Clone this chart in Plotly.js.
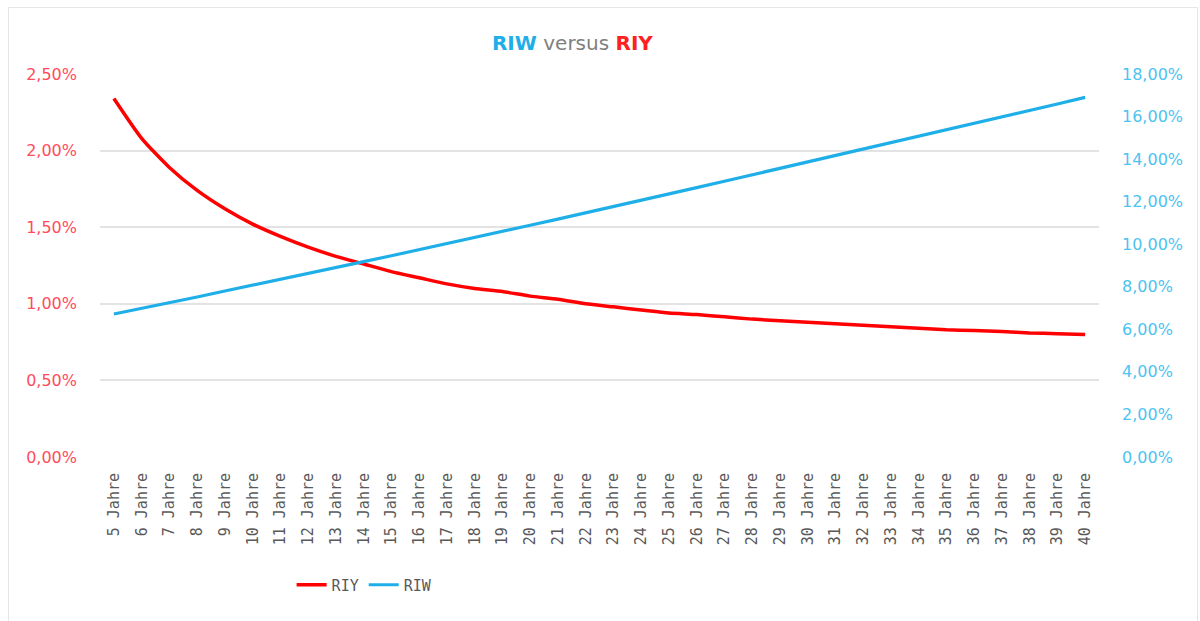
<!DOCTYPE html>
<html>
<head>
<meta charset="utf-8">
<script src="https://cdn.plot.ly/plotly-3.0.1.min.js"></script>
<style>
  html, body { margin: 0; padding: 0; background: #fff; }
  #wrap { position: relative; width: 1200px; height: 621px; }
  #chart { width: 1200px; height: 621px; }
  #frame { position: absolute; left: 8px; top: 7px; width: 1190px; height: 620px; border: 1px solid #e6e6e6; pointer-events: none; box-sizing: border-box; }
</style>
</head>
<body>
<div id="wrap">
  <div id="chart"></div>
  <div id="frame"></div>
</div>
<script>
const categories = ["5 Jahre","6 Jahre","7 Jahre","8 Jahre","9 Jahre","10 Jahre","11 Jahre","12 Jahre","13 Jahre","14 Jahre","15 Jahre","16 Jahre","17 Jahre","18 Jahre","19 Jahre","20 Jahre","21 Jahre","22 Jahre","23 Jahre","24 Jahre","25 Jahre","26 Jahre","27 Jahre","28 Jahre","29 Jahre","30 Jahre","31 Jahre","32 Jahre","33 Jahre","34 Jahre","35 Jahre","36 Jahre","37 Jahre","38 Jahre","39 Jahre","40 Jahre"];
const riy = [2.34,2.08,1.89,1.74,1.62,1.52,1.44,1.37,1.31,1.26,1.21,1.17,1.13,1.10,1.08,1.05,1.03,1.00,0.98,0.96,0.94,0.93,0.915,0.90,0.89,0.88,0.87,0.86,0.85,0.84,0.83,0.825,0.82,0.81,0.805,0.80];
const riw = [6.72,6.98,7.25,7.52,7.80,8.07,8.34,8.62,8.90,9.18,9.46,9.74,10.02,10.31,10.60,10.89,11.18,11.47,11.77,12.06,12.36,12.66,12.96,13.26,13.56,13.87,14.17,14.47,14.77,15.07,15.37,15.67,15.98,16.28,16.59,16.90];
const leftTicks = [0,0.5,1,1.5,2,2.5];
const leftTickText = ["0,00%","0,50%","1,00%","1,50%","2,00%","2,50%"];
const rightTicks = [0,2,4,6,8,10,12,14,16,18];
const rightTickText = ["0,00%","2,00%","4,00%","6,00%","8,00%","10,00%","12,00%","14,00%","16,00%","18,00%"];

const red = "#ff0000";
const blue = "#1eaee8";

const traces = [
  {x: categories, y: riy, name: "RIY", type: "scatter", mode: "lines",
   line: {color: red, width: 3.5, shape: "spline", smoothing: 0.6}, yaxis: "y"},
  {x: categories, y: riw, name: "RIW", type: "scatter", mode: "lines",
   line: {color: blue, width: 3.2}, yaxis: "y2"}
];

const layout = {
  width: 1200, height: 621,
  margin: {l: 100, r: 101, t: 74, b: 164},
  paper_bgcolor: "#ffffff", plot_bgcolor: "#ffffff",
  font: {family: "DejaVu Sans, Verdana, sans-serif", color: "#595959"},
  title: {
    text: '<b><span style="color:#1eaee8">RIW</span></b> <span style="color:#7f7f7f">versus</span> <b><span style="color:#ff2020">RIY</span></b>',
    x: 0.477, xanchor: "center", xref: "container", y: 0.931, yref: "container", yanchor: "middle",
    font: {size: 20, family: "DejaVu Sans, Verdana, sans-serif"}
  },
  xaxis: {
    type: "category", range: [-0.5, 35.5], automargin: false,
    tickangle: -90, tickfont: {size: 15, color: "#595959", family: "DejaVu Sans Mono, monospace"},
    showgrid: false, zeroline: false, showline: false, ticks: "",
    ticklabelstandoff: 12
  },
  yaxis: {
    range: [0, 2.5], tickvals: leftTicks, ticktext: leftTickText, automargin: false,
    tickfont: {size: 16, color: "#ff4b5c", family: "DejaVu Sans, Verdana, sans-serif"},
    showgrid: true, gridcolor: "#e3e3e3", gridwidth: 2, zeroline: false, showline: false,
    ticks: "", ticklabelstandoff: 22
  },
  yaxis2: {
    range: [0, 18], tickvals: rightTicks, ticktext: rightTickText, automargin: false,
    overlaying: "y", side: "right",
    tickfont: {size: 16, color: "#4cc3f0", family: "DejaVu Sans, Verdana, sans-serif"},
    showgrid: false, zeroline: false, showline: false, ticks: "",
    ticklabelstandoff: 22
  },
  showlegend: true,
  legend: {
    orientation: "h", x: 0.243, xref: "container", xanchor: "left",
    y: 0.058, yref: "container", yanchor: "middle",
    font: {size: 15, color: "#595959", family: "DejaVu Sans Mono, monospace"},
    bgcolor: "rgba(0,0,0,0)", itemwidth: 30, tracegroupgap: 0
  }
};

Plotly.newPlot("chart", traces, layout, {staticPlot: true, displayModeBar: false});
</script>
</body>
</html>
